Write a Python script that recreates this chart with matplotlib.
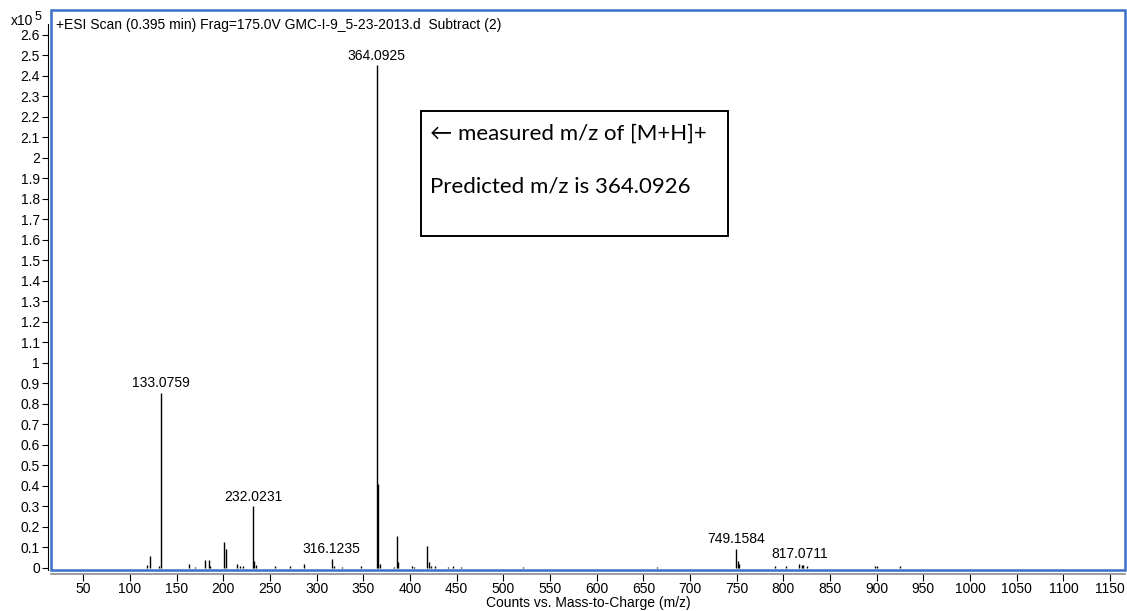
import matplotlib.pyplot as plt
from matplotlib.patches import Rectangle
import numpy as np

plt.rcParams['font.family'] = ['Liberation Sans', 'DejaVu Sans']

# centroided peaks, intensity in units of 1e5 counts
mz = [117.8, 121.8, 130.5, 133.0759, 163.0, 170.0, 180.7, 184.7, 186.0,
      201.1, 202.5, 214.4, 218.0, 220.5, 232.0231, 233.3, 235.0, 255.4,
      271.0, 286.8, 316.1235, 318.0, 327.5, 347.6, 364.0925, 365.8, 367.5,
      383.0, 386.2, 387.6, 402.6, 404.7, 418.3, 420.0, 422.0, 427.0,
      441.0, 446.0, 454.5, 520.5, 665.0, 749.1584, 751.0, 752.5, 791.0,
      803.0, 817.0711, 819.5, 821.5, 825.0, 898.0, 900.5, 925.0]
counts = [0.015, 0.058, 0.008, 0.855, 0.02, 0.005, 0.04, 0.04, 0.01,
          0.125, 0.093, 0.02, 0.01, 0.01, 0.30, 0.035, 0.015, 0.01,
          0.008, 0.02, 0.045, 0.01, 0.005, 0.008, 2.45, 0.41, 0.02,
          0.005, 0.155, 0.03, 0.01, 0.006, 0.107, 0.03, 0.01, 0.008,
          0.006, 0.008, 0.005, 0.005, 0.005, 0.093, 0.035, 0.02, 0.01,
          0.01, 0.02, 0.015, 0.012, 0.008, 0.01, 0.008, 0.01]
labelled = [133.0759, 232.0231, 316.1235, 364.0925, 749.1584, 817.0711]

x_ticks = np.arange(50, 1151, 50)
y_ticks = np.round(np.arange(0, 2.61, 0.1), 1)

frame_blue = '#3a6fc8'

fig = plt.figure(figsize=(11.27, 6.11), dpi=100)
ax = fig.add_axes([51 / 1127, 1 - 570 / 611, 1074 / 1127, 560 / 611])

ax.vlines(mz, 0, counts, colors='black', linewidth=1.0)
for m in labelled:
    h = counts[mz.index(m)]
    ax.annotate(f'{m:.4f}', (m, h), xytext=(0, 2), textcoords='offset points',
                ha='center', va='bottom', fontsize=10)

ax.set_xlim(15.3, 1166)
ax.set_ylim(-0.01, 2.72)

ax.set_xticks(x_ticks)
ax.set_xticklabels([str(v) for v in x_ticks])
ax.set_yticks(y_ticks)
ax.set_yticklabels([f'{v:g}' for v in y_ticks])
ax.tick_params(axis='both', direction='out', labelsize=10, width=0.8)
ax.tick_params(axis='x', length=5, pad=0.5)
ax.tick_params(axis='y', length=4, pad=2)

for side in ('top', 'right'):
    ax.spines[side].set_visible(False)
ax.spines['left'].set_position(('outward', 2))
ax.spines['left'].set_color('black')
ax.spines['left'].set_linewidth(0.8)
ax.spines['left'].set_bounds(-0.01, 2.65)
ax.spines['bottom'].set_position(('outward', 3))
ax.spines['bottom'].set_color('#8c8c8c')
ax.spines['bottom'].set_linewidth(1.2)

ax.add_patch(Rectangle((0, 0), 1, 1, transform=ax.transAxes, fill=False,
                       edgecolor=frame_blue, linewidth=1.8, clip_on=False, zorder=5))

fig.text(56 / 1127, 1 - 25 / 611,
         '+ESI Scan (0.395 min) Frag=175.0V GMC-I-9_5-23-2013.d  Subtract (2)',
         ha='left', va='center', fontsize=10)
fig.text(11 / 1127, 1 - 25 / 611, 'x10', fontsize=10, ha='left', va='baseline')
fig.text(35 / 1127, 1 - 20 / 611, '5', fontsize=9, ha='left', va='baseline')

ax.set_xlabel('Counts vs. Mass-to-Charge (m/z)', fontsize=10, labelpad=0)

# note box next to the base peak
fig.patches.append(Rectangle((421 / 1127, 1 - 236 / 611), 307 / 1127, 125 / 611,
                             transform=fig.transFigure, fill=False,
                             edgecolor='black', linewidth=1.4))
fig.text(430 / 1127, 1 - 134 / 611, '\u2190 measured m/z of [M+H]+',
         fontsize=16, family=['Lato', 'DejaVu Sans'], ha='left', va='center')
fig.text(430 / 1127, 1 - 186 / 611, 'Predicted m/z is 364.0926',
         fontsize=16, family=['Lato', 'DejaVu Sans'], ha='left', va='center')

fig.savefig('out.png', dpi=100)
